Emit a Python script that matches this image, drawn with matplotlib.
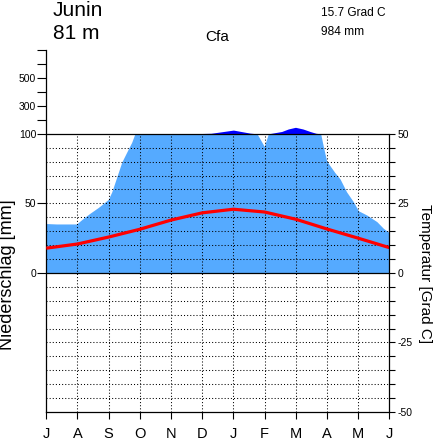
import matplotlib
matplotlib.use('Agg')
import matplotlib.pyplot as plt
import numpy as np

plt.rcParams['font.family'] = ['Liberation Sans', 'DejaVu Sans']

months = ['J', 'A', 'S', 'O', 'N', 'D', 'J', 'F', 'M', 'A', 'M', 'J']

# monthly mean temperature, July .. June
temp = [8.9, 10.4, 12.9, 15.7, 19.0, 21.6, 22.9, 21.9, 19.3, 15.8, 12.5, 9.1]

# precipitation curve (month position, mm)
prec_pos = [0.00, 0.33, 0.97, 1.19, 1.40, 1.67, 1.99, 2.10, 2.26, 2.42, 2.58,
            2.74, 2.84, 2.98, 3.98, 5.00, 5.28, 6.00, 6.54, 6.76, 6.99, 7.12,
            7.27, 7.55, 7.76, 7.99, 8.23, 8.46, 8.65, 8.80, 8.88, 8.94, 8.99,
            9.10, 9.26, 9.42, 9.63, 9.85, 10.01, 10.28, 10.60, 10.81, 11.00]
prec_mm = [35.5, 35.2, 35.2, 39.3, 42.9, 47.1, 52.9, 58.3, 69.0, 79.7, 86.9,
           94.0, 100.0, 100.8, 101.5, 102.5, 104.0, 127.0, 105.0, 100.0, 91.0,
           100.0, 106.0, 117.0, 135.0, 147.0, 135.0, 117.0, 104.0, 100.0,
           91.4, 85.4, 80.7, 77.0, 72.0, 67.6, 58.3, 51.1, 44.7, 41.6, 36.9,
           32.1, 29.0]

station = 'Junin'
height = '81 m'
climate = 'Cfa'
mean_temp = '15.7 Grad C'
total_prec = '984 mm'

light_blue = '#55aaff'
dark_blue = '#0000ff'


def prec_to_y(p):
    # 0..100 mm -> 0..50, above 100 mm scale is 1/10
    p = np.asarray(p, dtype=float)
    return np.where(p <= 100, p / 2.0, 50 + (p - 100) / 20.0)


W, H = 433, 440
fig = plt.figure(figsize=(W / 100, H / 100), dpi=100)
ax = fig.add_axes([46.3 / W, 28 / H, 343 / W, 361.6 / H])
ax.set_xlim(0, 11)
ax.set_ylim(-50, 80)
ax.patch.set_visible(False)

x = np.array(prec_pos)
p = np.array(prec_mm)
ax.fill_between(x, 0, np.minimum(p, 100) / 2, color=light_blue, lw=0, zorder=1)
ax.fill_between(x, 50, np.maximum(prec_to_y(p), 50), color=dark_blue, lw=0, zorder=1)

# dotted grid
hl = [v for v in range(-45, 50, 5) if v != 0]
ax.hlines(hl, 0, 11, colors='k', lw=0.75, linestyles=(0, (1, 2)), zorder=2)
ax.vlines(range(1, 11), -50, 50, colors='k', lw=0.75, linestyles=(0, (1, 2)), zorder=2)
ax.plot([0, 11], [0, 0], color='k', lw=0.9, zorder=3)
ax.plot([0, 11], [50, 50], color='k', lw=0.9, zorder=3)

ax.plot(range(12), temp, color='#ff0000', lw=2.3, zorder=4, solid_capstyle='butt')

for s in ['top', 'right']:
    ax.spines[s].set_visible(False)
ax.spines['left'].set_bounds(-50, 80)
ax.spines['bottom'].set_bounds(0, 11)
ax.spines['left'].set_linewidth(0.9)
ax.spines['bottom'].set_linewidth(0.9)

ax.set_xticks(range(12))
ax.set_xticklabels(months, fontsize=10.5)
ax.tick_params(axis='x', length=5, width=0.8, pad=6)

left_ticks = [0, 25, 50, 55, 60, 65, 70, 75, 80]
left_labels = ['0', '50', '100', '', '300', '', '500', '', '']
ax.set_yticks(left_ticks)
ax.set_yticklabels(left_labels, fontsize=7.5)
ax.tick_params(axis='y', length=6.3, width=0.8, pad=1)

ax2 = ax.twinx()
ax2.set_ylim(-50, 80)
for s in ['top', 'left', 'bottom']:
    ax2.spines[s].set_visible(False)
ax2.spines['right'].set_bounds(-50, 50)
ax2.spines['right'].set_linewidth(0.9)
rt = list(range(-50, 51, 5))
ax2.set_yticks(rt)
ax2.set_yticklabels([str(v) if v % 25 == 0 else '' for v in rt], fontsize=7.5)
ax2.tick_params(axis='y', length=4.2, width=0.8, pad=2)

fig.text(53 / W, 1 - 16.5 / H, station, fontsize=15, va='baseline')
fig.text(53 / W, 1 - 39 / H, height, fontsize=15, va='baseline')
fig.text(217 / W, 1 - 40.7 / H, climate, fontsize=11, ha='center', va='baseline')
fig.text(321 / W, 1 - 16 / H, mean_temp, fontsize=8.6, va='baseline')
fig.text(321 / W, 1 - 35 / H, total_prec, fontsize=8.6, va='baseline')

fig.text(7.5 / W, 1 - 275 / H, 'Niederschlag [mm]', fontsize=13, rotation=90,
         ha='center', va='center')
fig.text(425.5 / W, 1 - 274 / H, 'Temperatur [Grad C]', fontsize=11, rotation=-90,
         ha='center', va='center')

fig.savefig('out.png', dpi=100)
